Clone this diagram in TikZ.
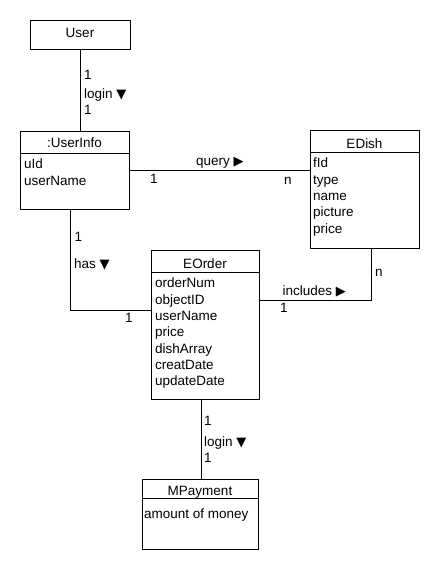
\documentclass[tikz,border=0pt]{standalone}
\usepackage{fontspec}
\setmainfont{Liberation Sans}
\newfontfamily\symfont{DejaVu Sans}
\tikzset{
  cls/.style={draw, line width=1pt, anchor=north west, inner sep=0pt},
  lbl/.style={anchor=base west, inner sep=0pt, font=\fontsize{13.5}{16}\selectfont},
  ttl/.style={anchor=base, inner sep=0pt, font=\fontsize{13.5}{16}\selectfont},
  attr/.style={anchor=north west, inner sep=0pt, align=left, font=\fontsize{13.5}{16.3}\selectfont},
  conn/.style={line width=1pt}
}
\newcommand{\dn}{{\symfont\fontsize{13}{13}\selectfont ▼}}
\newcommand{\rt}{{\symfont\fontsize{13}{13}\selectfont ▶}}
\begin{document}
\begin{tikzpicture}[x=1pt,y=-1pt]
\useasboundingbox (0,0) rectangle (440,570);
% boxes
\node[cls, minimum width=100pt, minimum height=29pt] (user) at (30,20) {};
\node[cls, minimum width=109pt, minimum height=78pt] (userinfo) at (20,131) {};
\node[cls, minimum width=109pt, minimum height=118pt] (edish) at (310,130) {};
\node[cls, minimum width=108pt, minimum height=149pt] (eorder) at (151,250) {};
\node[cls, minimum width=116pt, minimum height=70pt] (mpay) at (142,479) {};
% header separators
\draw[conn] (20,153) -- (129,153);
\draw[conn] (310,152) -- (419,152);
\draw[conn] (151,272) -- (259,272);
\draw[conn] (142,498) -- (258,498);
% titles
\node[ttl] (tuser) at (80,37.7) {User};
\node[ttl] (tuserinfo) at (74.5,147.7) {:UserInfo};
\node[ttl] (tedish) at (364.5,148.3) {EDish};
\node[ttl] (teorder) at (205,268.3) {EOrder};
\node[ttl] (tmpay) at (200,495) {MPayment};
% attributes
\node[attr] (auserinfo) at (24,159) {uId\\userName};
\node[attr] (aedish) at (313,158) {fId\\type\\name\\picture\\price};
\node[attr] (aeorder) at (155,278) {orderNum\\objectID\\userName\\price\\dishArray\\creatDate\\updateDate};
\node[attr] (ampay) at (144,508.5) {amount of money};
% connector ports
\coordinate (hasA) at (70,209);
\coordinate (hasB) at (70,310);
\coordinate (incB) at (371,300);
\coordinate (payA) at (201,399);
% connectors
\draw[conn] (user.south) -- (user.south |- userinfo.north);
\draw[conn] (userinfo.east) -- (userinfo.east -| edish.west);
\draw[conn] (hasA) -- (hasB) -- (hasB -| eorder.west);
\draw[conn] (incB -| eorder.east) -- (incB) -- (incB |- edish.south);
\draw[conn] (payA) -- (payA |- mpay.north);
% labels
\node[lbl] (l1) at (84,79.3) {1};
\node[lbl] (l2) at (84,98.3) {login \dn};
\node[lbl] (l3) at (84,114.3) {1};
\node[lbl] (q1) at (196,165.7) {query \rt};
\node[lbl] (q2) at (150,183.3) {1};
\node[lbl] (q3) at (284,184) {n};
\node[lbl] (h1) at (74.5,241) {1};
\node[lbl] (h2) at (74,268.3) {has \dn};
\node[lbl] (h3) at (125,322.7) {1};
\node[lbl] (i1) at (282.3,295) {includes \rt};
\node[lbl] (i2) at (280,312.7) {1};
\node[lbl] (i3) at (375,276.7) {n};
\node[lbl] (p1) at (204,425.7) {1};
\node[lbl] (p2) at (204,446.7) {login \dn};
\node[lbl] (p3) at (204,462.7) {1};
\end{tikzpicture}
\end{document}
